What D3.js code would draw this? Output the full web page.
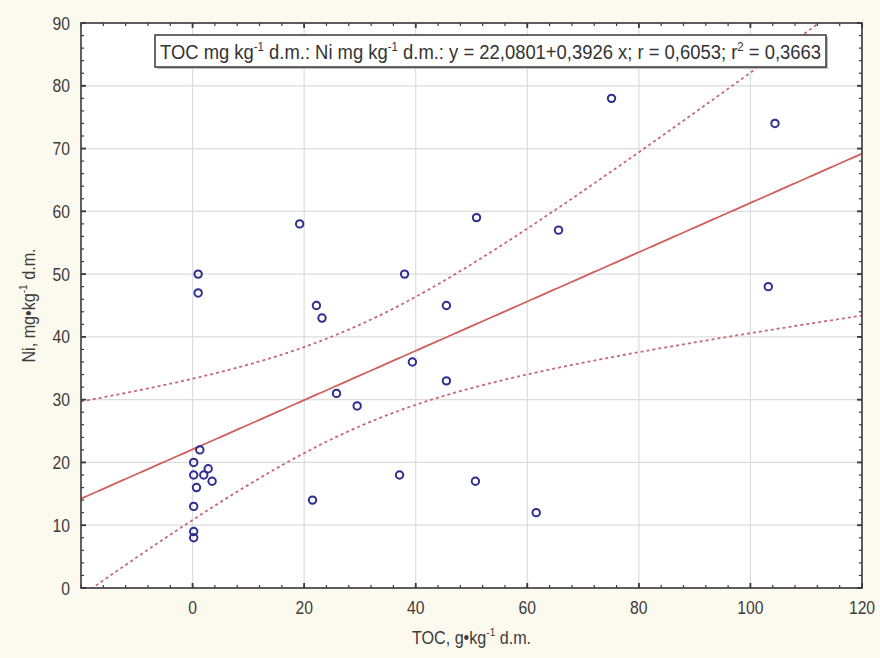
<!DOCTYPE html>
<html>
<head>
<meta charset="utf-8">
<script src="https://cdn.jsdelivr.net/npm/d3@7/dist/d3.min.js"></script>
<style>
html,body{margin:0;padding:0;background:#fcf9ee;}
svg{display:block;}
text{font-family:"Liberation Sans",Arial,sans-serif;}
</style>
</head>
<body>
<svg id="chart" width="880" height="658"></svg>
<script>
// ---- data ----
const tocValues = [1, 1, 1.3, 0.2, 2.8, 0.2, 2, 3.5, 0.7, 0.2, 0.2, 0.2, 21.5, 19.2, 22.2, 23.2, 25.8, 29.5, 37.1, 38, 39.4, 45.5, 45.5, 50.9, 50.7, 61.6, 65.6, 75.1, 103.2, 104.4];
const niValues  = [50, 47, 22, 20, 19, 18, 18, 17, 16, 13, 9, 8, 14, 58, 45, 43, 31, 29, 18, 50, 36, 45, 33, 59, 17, 12, 57, 78, 48, 74];
const xTicks = [0, 20, 40, 60, 80, 100, 120];
const yTicks = [0, 10, 20, 30, 40, 50, 60, 70, 80, 90];
const xDomain = [-20, 120];
const yDomain = [0, 90];
const intercept = 22.0801;
const slope = 0.3926;
const rValue = "0,6053";
const r2Value = "0,3663";
const tCrit = 2.763; // t(0.995, df = 28) -> 99% confidence band

const svg = d3.select("#chart");
const m = {left: 81, top: 23, right: 862, bottom: 588};
const x = d3.scaleLinear().domain(xDomain).range([m.left, m.right]);
const y = d3.scaleLinear().domain(yDomain).range([m.bottom, m.top]);

svg.append("rect").attr("width", 880).attr("height", 658).attr("fill", "#fcf9ee");
svg.append("rect").attr("x", m.left).attr("y", m.top)
  .attr("width", m.right - m.left).attr("height", m.bottom - m.top).attr("fill", "#ffffff");

svg.append("clipPath").attr("id", "clip").append("rect")
  .attr("x", m.left).attr("y", m.top).attr("width", m.right - m.left).attr("height", m.bottom - m.top);

// grid
const grid = svg.append("g");
xTicks.forEach(v => grid.append("line").attr("x1", x(v)).attr("x2", x(v)).attr("y1", m.top).attr("y2", m.bottom)
  .attr("stroke", "#dcdcdc").attr("stroke-width", 1.2));
yTicks.forEach(v => grid.append("line").attr("y1", y(v)).attr("y2", y(v)).attr("x1", m.left).attr("x2", m.right)
  .attr("stroke", "#dcdcdc").attr("stroke-width", 1.2));

// regression line + confidence band
const n = tocValues.length;
const xbar = d3.mean(tocValues);
const sxx = d3.sum(tocValues, v => (v - xbar) ** 2);
const sse = d3.sum(tocValues, (v, i) => (niValues[i] - (intercept + slope * v)) ** 2);
const s = Math.sqrt(sse / (n - 2));
const xs = d3.range(xDomain[0], xDomain[1] + 0.001, 0.5);
const fit = v => intercept + slope * v;
const half = v => tCrit * s * Math.sqrt(1 / n + (v - xbar) ** 2 / sxx);

const plotG = svg.append("g").attr("clip-path", "url(#clip)");
const line = d3.line().x(d => x(d[0])).y(d => y(d[1]));
plotG.append("path").datum(xs.map(v => [v, fit(v)])).attr("d", line)
  .attr("fill", "none").attr("stroke", "#d0605e").attr("stroke-width", 1.8);
plotG.append("path").datum(xs.map(v => [v, fit(v) + half(v)])).attr("d", line)
  .attr("fill", "none").attr("stroke", "#c4687a").attr("stroke-width", 1.8).attr("stroke-dasharray", "3,3");
plotG.append("path").datum(xs.map(v => [v, fit(v) - half(v)])).attr("d", line)
  .attr("fill", "none").attr("stroke", "#c4687a").attr("stroke-width", 1.8).attr("stroke-dasharray", "3,3");

// points
svg.append("g").selectAll("circle").data(tocValues.map((v, i) => [v, niValues[i]])).join("circle")
  .attr("cx", d => x(d[0])).attr("cy", d => y(d[1])).attr("r", 3.7)
  .attr("fill", "none").attr("stroke", "#2e2e92").attr("stroke-width", 2);

// frame
svg.append("rect").attr("x", m.left).attr("y", m.top)
  .attr("width", m.right - m.left).attr("height", m.bottom - m.top)
  .attr("fill", "none").attr("stroke", "#3a3a3a").attr("stroke-width", 1.6);

// axes (ticks inward on all sides)
const xMinor = d3.range(xDomain[0], xDomain[1] + 0.001, 4);
const yMinor = d3.range(yDomain[0], yDomain[1] + 0.001, 2);
const tk = svg.append("g").attr("stroke", "#3a3a3a").attr("stroke-width", 1.2);
xMinor.forEach(v => {
  tk.append("line").attr("x1", x(v)).attr("x2", x(v)).attr("y1", m.bottom).attr("y2", m.bottom - 3);
  tk.append("line").attr("x1", x(v)).attr("x2", x(v)).attr("y1", m.top).attr("y2", m.top + 3);
});
yMinor.forEach(v => {
  tk.append("line").attr("y1", y(v)).attr("y2", y(v)).attr("x1", m.left).attr("x2", m.left + 3);
  tk.append("line").attr("y1", y(v)).attr("y2", y(v)).attr("x1", m.right).attr("x2", m.right - 3);
});
xTicks.forEach(v => {
  tk.append("line").attr("x1", x(v)).attr("x2", x(v)).attr("y1", m.bottom).attr("y2", m.bottom - 5).attr("stroke-width", 1.8);
  tk.append("line").attr("x1", x(v)).attr("x2", x(v)).attr("y1", m.top).attr("y2", m.top + 5).attr("stroke-width", 1.8);
});
yTicks.forEach(v => {
  tk.append("line").attr("y1", y(v)).attr("y2", y(v)).attr("x1", m.left).attr("x2", m.left + 5).attr("stroke-width", 1.8);
  tk.append("line").attr("y1", y(v)).attr("y2", y(v)).attr("x1", m.right).attr("x2", m.right - 5).attr("stroke-width", 1.8);
});

const sx = 0.85;
const labG = svg.append("g").attr("fill", "#3c3c3c").style("font-size", "18.5px");
xTicks.forEach(v => labG.append("text")
  .attr("transform", `translate(${x(v)},${m.bottom + 26}) scale(${sx},1)`)
  .attr("text-anchor", "middle").text(v));
yTicks.forEach(v => labG.append("text")
  .attr("transform", `translate(${m.left - 11},${y(v) + 6.5}) scale(${sx},1)`)
  .attr("text-anchor", "end").text(v));

// text with superscripts
function addSup(t, parts, size) {
  let pending = 0;
  parts.forEach(p => {
    const ts = t.append("tspan");
    if (p.sup) {
      ts.attr("dy", pending - size * 0.4).style("font-size", (size * 0.62) + "px").text(p.s);
      pending = size * 0.4;
    } else {
      if (pending) ts.attr("dy", pending);
      pending = 0;
      ts.text(p.s);
    }
  });
}
const xt = svg.append("text").attr("fill", "#3c3c3c").style("font-size", "19px")
  .attr("transform", `translate(${(m.left + m.right) / 2},${644}) scale(${sx},1)`).attr("text-anchor", "middle");
addSup(xt, [{s: "TOC, g\u2022kg"}, {s: "-1", sup: true}, {s: " d.m."}], 19);

const yt = svg.append("text").attr("fill", "#3c3c3c").style("font-size", "19px")
  .attr("transform", `translate(${35},${(m.top + m.bottom) / 2}) rotate(-90) scale(${sx},1)`).attr("text-anchor", "middle");
addSup(yt, [{s: "Ni, mg\u2022kg"}, {s: "-1", sup: true}, {s: " d.m."}], 19);

// regression label box
const bx = 155, by = 35, bw = 671, bh = 32;
svg.append("rect").attr("x", bx + 2).attr("y", by + 2).attr("width", bw).attr("height", bh).attr("fill", "#bdbdbd");
svg.append("rect").attr("x", bx).attr("y", by).attr("width", bw).attr("height", bh)
  .attr("fill", "#ffffff").attr("stroke", "#444").attr("stroke-width", 1.6);
const lt = svg.append("text").attr("x", bx + 5).attr("y", by + 24).attr("fill", "#333").style("font-size", "20px")
  .attr("textLength", 661).attr("lengthAdjust", "spacingAndGlyphs");
addSup(lt, [
  {s: "TOC mg kg"}, {s: "-1", sup: true}, {s: " d.m.: Ni mg kg"}, {s: "-1", sup: true},
  {s: ` d.m.: y = ${intercept.toFixed(4).replace(".", ",")}+${slope.toFixed(4).replace(".", ",")} x; r = ${rValue}; r`},
  {s: "2", sup: true}, {s: ` = ${r2Value}`}
], 20);
</script>
</body>
</html>
